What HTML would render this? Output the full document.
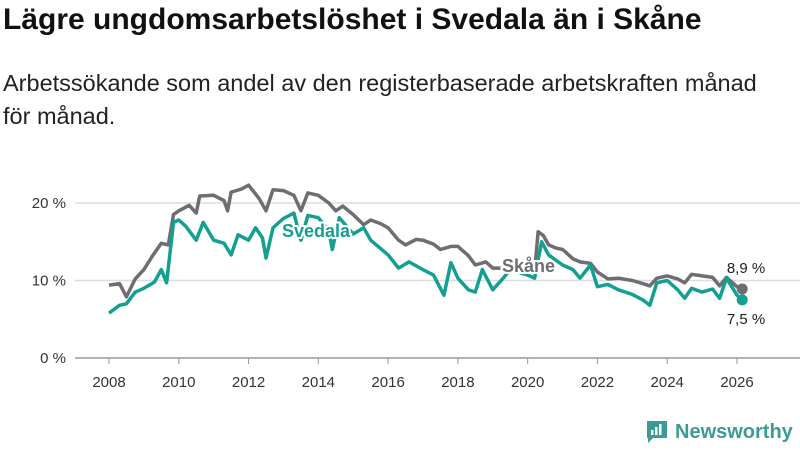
<!DOCTYPE html>
<html><head><meta charset="utf-8"><style>
body{margin:0;width:800px;height:450px;background:#fff;font-family:"Liberation Sans",sans-serif;overflow:hidden;position:relative}
#title{position:absolute;left:3px;top:3px;font-size:30px;font-weight:bold;color:#111;margin:0;white-space:nowrap}
#sub{position:absolute;left:3px;top:67px;font-size:23.5px;color:#222;line-height:33px;width:772px}
svg{position:absolute;left:0;top:0}
</style></head><body>
<h1 id="title">Lägre ungdomsarbetslöshet i Svedala än i Skåne</h1>
<div id="sub">Arbetssökande som andel av den registerbaserade arbetskraften månad för månad.</div>
<svg id="chart" width="800" height="450"></svg>
<div style="position:absolute;left:645px;top:419px;display:flex;align-items:center;gap:6px;color:#3a9c94;font-size:20px;font-weight:bold">
<svg width="24" height="26" style="position:static" viewBox="0 0 24 26"><path d="M2 2h20v17H8l-5 5v-5H2z" fill="#3a9c94"/><rect x="6" y="11" width="2.5" height="5" fill="#fff"/><rect x="10" y="8" width="2.5" height="8" fill="#fff"/><rect x="14" y="5" width="2.5" height="11" fill="#fff"/></svg>
<span>Newsworthy</span></div>
<script>
const skaneT=[2008,2008.3,2008.5,2008.75,2009,2009.25,2009.5,2009.7,2009.85,2010,2010.3,2010.5,2010.6,2011,2011.3,2011.4,2011.5,2011.8,2012,2012.3,2012.5,2012.7,2013,2013.3,2013.5,2013.7,2014,2014.3,2014.5,2014.7,2015,2015.3,2015.5,2015.8,2016,2016.3,2016.5,2016.8,2017,2017.3,2017.5,2017.8,2018,2018.3,2018.5,2018.8,2019,2019.5,2020,2020.2,2020.3,2020.45,2020.6,2020.8,2021,2021.3,2021.5,2021.8,2022,2022.3,2022.6,2023,2023.3,2023.5,2023.7,2024,2024.3,2024.5,2024.7,2025,2025.3,2025.5,2025.7,2026,2026.15];
const skaneV=[9.4,9.6,7.9,10.2,11.4,13.2,14.8,14.6,18.5,19,19.7,18.7,20.9,21,20.3,19,21.4,21.8,22.3,20.6,19,21.7,21.6,21,19,21.3,21,20,19,19.6,18.5,17.2,17.8,17.3,16.8,15.2,14.6,15.3,15.2,14.7,14,14.4,14.4,13.2,12,12.4,11.6,11.6,11.4,11.1,16.3,15.8,14.6,14.2,14,12.8,12.4,12.2,11.1,10.2,10.3,10,9.6,9.3,10.3,10.6,10.2,9.7,10.8,10.6,10.4,9.3,10.4,9.2,8.9];
const svedT=[2008,2008.3,2008.5,2008.75,2009,2009.3,2009.5,2009.65,2009.85,2010,2010.2,2010.5,2010.7,2011,2011.3,2011.5,2011.7,2012,2012.2,2012.4,2012.5,2012.7,2013,2013.3,2013.5,2013.7,2014,2014.3,2014.4,2014.6,2015,2015.3,2015.5,2016,2016.3,2016.6,2017,2017.3,2017.6,2017.8,2018,2018.3,2018.5,2018.7,2019,2019.3,2019.5,2020,2020.2,2020.4,2020.6,2021,2021.3,2021.5,2021.8,2022,2022.3,2022.6,2023,2023.3,2023.5,2023.7,2024,2024.3,2024.5,2024.7,2025,2025.3,2025.5,2025.7,2026,2026.15];
const svedV=[5.8,6.8,7,8.5,9,9.8,11.4,9.7,17.5,17.8,17,15.2,17.5,15.2,14.8,13.3,15.9,15.2,16.8,15.5,12.9,16.8,18,18.7,15.2,18.4,18.1,16.4,14,18.1,16,16.8,15.2,13.3,11.6,12.4,11.4,10.7,8.1,12.3,10.3,8.8,8.5,11.4,8.8,10.3,11.4,10.7,10.3,15,13.3,12,11.4,10.3,12,9.2,9.5,8.8,8.2,7.5,6.8,9.7,10,8.8,7.7,9,8.5,8.9,7.7,10.3,8.1,7.5];
const ticks=[0,10,20];
const years=[2008,2010,2012,2014,2016,2018,2020,2022,2024,2026];
const ns="http://www.w3.org/2000/svg";
const svg=document.getElementById('chart');
const X=t=>109+(t-2008)*(737-109)/18;
const Y=v=>358-v*7.75;
function mk(tag,a){const e=document.createElementNS(ns,tag);for(const k in a)e.setAttribute(k,a[k]);svg.appendChild(e);return e;}
ticks.forEach(v=>{
 const l=mk('line',{x1:75,x2:800,y1:Y(v),y2:Y(v),stroke:v===0?'#999':'#ddd','stroke-width':1.5});
 
 
 const t=mk('text',{x:66,y:Y(v)+5,'text-anchor':'end','font-size':15,fill:'#333'});t.textContent=v+' %';
 
 
});
years.forEach(y=>{
 const l=mk('line',{x1:X(y),x2:X(y),y1:358,y2:364,stroke:'#999'});
 
 
 const t=mk('text',{x:X(y),y:387,'text-anchor':'middle','font-size':15,fill:'#333'});t.textContent=y;
 
 
});
function line(T,V,c,name){
 const d=T.map((t,i)=>(i?'L':'M')+X(t).toFixed(1)+','+Y(V[i]).toFixed(1)).join('');
 const p=mk('path',{d:d,fill:'none',stroke:c,'stroke-width':3.5,'stroke-linejoin':'round'});
 
 
 const n=T.length-1;
 const ci=mk('circle',{cx:X(T[n]),cy:Y(V[n]),r:5.5,fill:c});
 
 
}
line(skaneT,skaneV,'#6e6d72','skane');
line(svedT,svedV,'#13a092','svedala');
function lab(x,y,txt,c,name,bold,anchor){
 const t=mk('text',{x:x,y:y,'font-size':bold?18:15,'font-weight':bold?'bold':'normal',fill:c,'text-anchor':anchor||'start',stroke:bold?'#fff':'none','stroke-width':bold?4:0,'paint-order':'stroke'});t.textContent=txt;
 
 
}
lab(282,237,'Svedala','#13a092','svedala-label',true);
lab(502,272,'Skåne','#6e6d72','skane-label',true);
lab(746,273,'8,9 %','#222','skane-end-value',false,'middle');
lab(746,324,'7,5 %','#222','svedala-end-value',false,'middle');
</script>
</body></html>
